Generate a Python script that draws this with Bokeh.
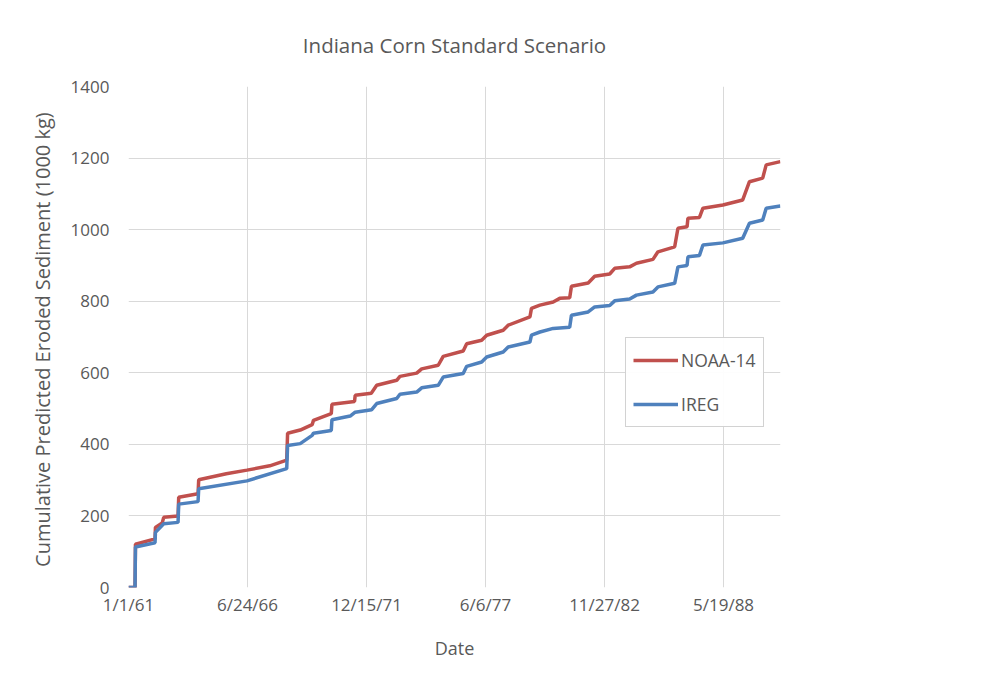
import pandas as pd
from bokeh.plotting import figure
from bokeh.models import FixedTicker, Legend, LegendItem, Range1d
from bokeh.embed import file_html
from bokeh.resources import INLINE

# ---- data ----
# x: years elapsed since 1/1/1961, y: cumulative sediment (1000 kg)
noaa_years = [0.00, 0.30, 0.32, 1.22, 1.24, 1.55, 1.62, 2.28, 2.31, 3.20, 3.23,
              4.50, 5.45, 6.50, 7.28, 7.32, 7.90, 8.45, 8.51, 9.33, 9.36,
              10.40, 10.43, 11.17, 11.42, 12.34, 12.49, 13.26, 13.49, 14.25,
              14.48, 15.40, 15.56, 16.25, 16.48, 17.24, 17.47, 18.47, 18.54,
              18.93, 19.54, 19.84, 20.30, 20.38, 21.15, 21.45, 22.14, 22.37,
              23.06, 23.37, 24.13, 24.36, 25.13, 25.28, 25.70, 25.74, 26.27,
              26.43, 27.35, 28.26, 28.57, 29.18, 29.34, 29.99]
noaa_values = [0, 0, 121, 136, 168, 180, 196, 200, 252, 262, 301,
               318, 328, 340, 356, 431, 440, 455, 467, 486, 512,
               520, 537, 543, 565, 579, 590, 599, 611, 621,
               646, 661, 681, 691, 705, 719, 733, 756, 780,
               789, 798, 808, 810, 842, 851, 870, 876, 892,
               896, 906, 917, 938, 952, 1004, 1008, 1032, 1034,
               1060, 1069, 1083, 1134, 1144, 1181, 1190]

ireg_years = [0.00, 0.30, 0.32, 1.22, 1.24, 1.62, 2.28, 2.31, 3.20, 3.23,
              5.45, 7.28, 7.32, 7.90, 8.45, 8.51, 9.33, 9.36, 10.20, 10.43,
              11.19, 11.42, 12.34, 12.49, 13.26, 13.49, 14.25, 14.48, 15.40,
              15.56, 16.25, 16.48, 17.24, 17.47, 18.47, 18.54, 18.93, 19.54,
              20.30, 20.38, 21.15, 21.45, 22.14, 22.37, 23.06, 23.37, 24.13,
              24.36, 25.13, 25.28, 25.70, 25.74, 26.27, 26.43, 27.35, 28.26,
              28.57, 29.18, 29.34, 29.99]
ireg_values = [0, 0, 113, 125, 154, 178, 182, 233, 240, 276,
               298, 332, 397, 402, 425, 431, 439, 469, 479, 490,
               497, 514, 528, 540, 546, 558, 565, 588, 598,
               618, 630, 644, 658, 672, 686, 705, 714, 724,
               727, 761, 770, 784, 788, 801, 806, 817, 826,
               840, 850, 896, 900, 924, 928, 957, 963, 976,
               1018, 1027, 1060, 1066]

x_tick_dates = ["1961-01-01", "1966-06-24", "1971-12-15", "1977-06-06",
                "1982-11-27", "1988-05-19"]
x_tick_labels = ["1/1/61", "6/24/66", "12/15/71", "6/6/77", "11/27/82", "5/19/88"]
y_ticks = [0, 200, 400, 600, 800, 1000, 1200, 1400]

series_names = ["NOAA-14", "IREG"]
series_colors = ["#C0504D", "#4F81BD"]
title_text = "Indiana Corn Standard Scenario"

# ---- conversion to days since 1/1/1961 ----
origin = pd.Timestamp("1961-01-01")
noaa_x = [y * 365.25 for y in noaa_years]
ireg_x = [y * 365.25 for y in ireg_years]
tick_days = [(pd.Timestamp(d) - origin).days for d in x_tick_dates]
x_end = (pd.Timestamp("1991-01-01") - origin).days

FONT = "Open Sans"
GRAY = "#595959"

p = figure(width=986, height=676, output_backend="svg", toolbar_location=None,
           x_range=Range1d(0, x_end), y_range=Range1d(0, 1400),
           min_border_left=128, min_border_right=206,
           min_border_top=86, min_border_bottom=89)

p.title.text = title_text
p.title.align = "center"
p.title.offset = 2
p.title.text_font = FONT
p.title.text_font_size = "20.5px"
p.title.text_font_style = "normal"
p.title.text_color = GRAY
p.title.standoff = 56

p.outline_line_color = None
p.background_fill_color = "white"
p.border_fill_color = "white"

for ax in (p.xaxis[0], p.yaxis[0]):
    ax.axis_line_color = None
    ax.major_tick_line_color = None
    ax.minor_tick_line_color = None
    ax.major_tick_out = 0
    ax.major_tick_in = 0
    ax.major_label_text_font = FONT
    ax.major_label_text_font_size = "17px"
    ax.major_label_text_color = GRAY
    ax.axis_label_text_font = FONT
    ax.axis_label_text_font_style = "normal"
    ax.axis_label_text_color = GRAY

p.xaxis.ticker = FixedTicker(ticks=tick_days)
p.xaxis.major_label_overrides = {d: lab for d, lab in zip(tick_days, x_tick_labels)}
p.xaxis.axis_label = "Date"
p.xaxis.axis_label_text_font_size = "18px"
p.xaxis.major_label_standoff = 5
p.xaxis.axis_label_standoff = 17

p.yaxis.ticker = FixedTicker(ticks=y_ticks)
p.yaxis.axis_label = "Cumulative Predicted  Eroded Sediment (1000 kg)"
p.yaxis.axis_label_text_font_size = "20px"
p.yaxis.major_label_standoff = 19
p.yaxis.axis_label_standoff = 12

p.xgrid.grid_line_color = "#d9d9d9"
p.ygrid.grid_line_color = "#d9d9d9"
p.xgrid.grid_line_width = 1
p.ygrid.grid_line_width = 1

r_noaa = p.line(noaa_x, noaa_values, line_color=series_colors[0], line_width=3.5)
r_ireg = p.line(ireg_x, ireg_values, line_color=series_colors[1], line_width=3.5)

legend = Legend(items=[LegendItem(label=series_names[0], renderers=[r_noaa]),
                       LegendItem(label=series_names[1], renderers=[r_ireg])],
                location=(497, 160))
legend.border_line_color = "#a6a6a6"
legend.border_line_width = 1
legend.background_fill_color = "white"
legend.label_text_font = FONT
legend.label_text_font_size = "17.5px"
legend.label_text_color = GRAY
legend.glyph_width = 45
legend.glyph_height = 30
legend.label_height = 30
legend.label_standoff = 3
legend.spacing = 14
legend.padding = 7
legend.margin = 0
p.add_layout(legend)

open("out.html", "w").write(file_html(p, INLINE))
